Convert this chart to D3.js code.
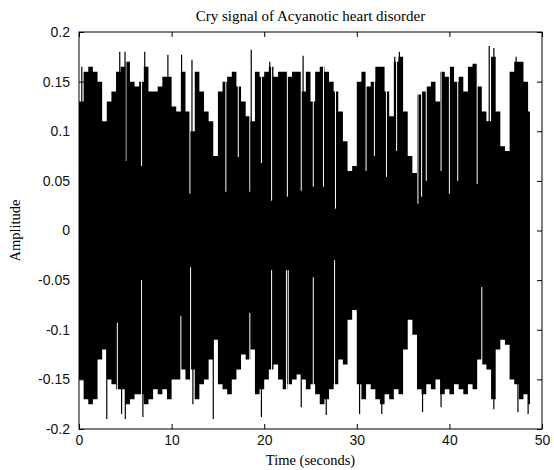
<!DOCTYPE html>
<html>
<head>
<meta charset="utf-8">
<script src="https://cdn.jsdelivr.net/npm/d3@7"></script>
<style>
  body { margin: 0; background: #fff; }
  .tick text { font-family: "Liberation Sans", Arial, sans-serif; font-size: 14px; fill: #111; }
</style>
</head>
<body>
<div id="chart"></div>
<script>
// Envelope of the cry signal, every 0.5 s
const times = [0,0.5,1,1.5,2,2.5,3,3.5,4,4.5,5,5.5,6,6.5,7,7.5,8,8.5,9,9.5,
  10,10.5,11,11.5,12,12.5,13,13.5,14,14.5,15,15.5,16,16.5,17,17.5,18,18.5,19,19.5,
  20,20.5,21,21.5,22,22.5,23,23.5,24,24.5,25,25.5,26,26.5,27,27.5,28,28.5,29,29.5,
  30,30.5,31,31.5,32,32.5,33,33.5,34,34.5,35,35.5,36,36.5,37,37.5,38,38.5,39,39.5,
  40,40.5,41,41.5,42,42.5,43,43.5,44,44.5,45,45.5,46,46.5,47,47.5,48,48.5];
const endTime = 48.7;

const upper = [0.13,0.16,0.165,0.16,0.15,0.11,0.13,0.14,0.16,0.165,0.17,0.15,0.145,0.15,0.165,0.14,0.14,0.145,0.155,0.155,
  0.125,0.12,0.16,0.12,0.1,0.16,0.14,0.12,0.11,0.075,0.14,0.15,0.155,0.16,0.145,0.13,0.115,0.11,0.16,0.155,
  0.16,0.165,0.155,0.16,0.16,0.155,0.16,0.16,0.14,0.16,0.13,0.16,0.165,0.16,0.15,0.14,0.12,0.09,0.06,0.065,
  0.15,0.16,0.145,0.15,0.165,0.165,0.14,0.115,0.17,0.175,0.12,0.075,0.058,0.137,0.14,0.145,0.15,0.13,0.16,0.155,
  0.165,0.15,0.155,0.14,0.165,0.168,0.145,0.12,0.11,0.175,0.12,0.085,0.08,0.16,0.17,0.17,0.15,0.12];

const lower = [-0.15,-0.17,-0.175,-0.17,-0.13,-0.12,-0.15,-0.155,-0.16,-0.16,-0.175,-0.17,-0.165,-0.165,-0.175,-0.17,-0.16,-0.165,-0.16,-0.17,
  -0.15,-0.15,-0.14,-0.15,-0.14,-0.17,-0.155,-0.15,-0.13,-0.11,-0.155,-0.16,-0.165,-0.15,-0.14,-0.125,-0.13,-0.12,-0.165,-0.16,
  -0.15,-0.14,-0.135,-0.15,-0.16,-0.155,-0.15,-0.145,-0.15,-0.16,-0.155,-0.165,-0.175,-0.17,-0.16,-0.155,-0.13,-0.135,-0.09,-0.08,
  -0.155,-0.17,-0.155,-0.16,-0.17,-0.175,-0.165,-0.17,-0.16,-0.165,-0.12,-0.09,-0.105,-0.16,-0.165,-0.155,-0.16,-0.15,-0.165,-0.16,
  -0.165,-0.155,-0.16,-0.165,-0.155,-0.16,-0.13,-0.135,-0.14,-0.17,-0.12,-0.11,-0.115,-0.15,-0.155,-0.17,-0.165,-0.175];

// Single peaks that stick out of the envelope
const peakTimes = [0.3,4.4,4.97,7.1,9.6,11.08,12.2,18.6,20.6,24.2,34.1,34.6,44.3,44.8,47.2];
const peakValues = [0.165,0.18,0.18,0.18,0.177,0.177,0.172,0.182,0.17,0.176,0.175,0.18,0.186,0.184,0.175];
const troughTimes = [3.0,4.6,5.0,6.9,12.3,14.5,19.7,24.0,26.7,30.3,32.7,37.1,39.1,44.8,47.4,48.5];
const troughValues = [-0.19,-0.185,-0.19,-0.188,-0.175,-0.19,-0.188,-0.178,-0.186,-0.185,-0.185,-0.183,-0.178,-0.18,-0.183,-0.185];

// Short drops in amplitude (thin white lines)
const topGapTimes = [5.07,6.76,11.98,15.86,17.2,18.45,19.7,20.8,22.5,24.0,25.3,26.4,27.7,31.0,31.9,33.2,34.3,36.6,37.0,37.5,39.1,40.0,40.9,43.0];
const topGapLevels = [0.07,0.065,0.037,0.039,0.074,0.039,0.068,0.03,0.034,0.04,0.044,0.044,0.022,0.06,0.075,0.054,0.08,0.027,0.034,0.05,0.06,0.037,0.05,0.047];
const bottomGapTimes = [4.14,6.76,11.0,12.05,18.45,20.8,22.6,22.4,25.3,27.6,43.5];
const bottomGapLevels = [-0.093,-0.05,-0.086,-0.037,-0.083,-0.04,-0.04,-0.04,-0.047,-0.03,-0.057];

const xTicks = [0, 10, 20, 30, 40, 50];
const yTicks = [-0.2, -0.15, -0.1, -0.05, 0, 0.05, 0.1, 0.15, 0.2];

const width = 554;
const height = 470;
const margin = { top: 32, right: 12, bottom: 41, left: 79 };
const w = width - margin.left - margin.right;
const h = height - margin.top - margin.bottom;
const serif = '"Liberation Serif", "Times New Roman", serif';

const svg = d3.select('#chart')
  .append('svg')
  .attr('width', width)
  .attr('height', height);

const g = svg.append('g')
  .attr('transform', `translate(${margin.left},${margin.top})`);

const x = d3.scaleLinear().domain([0, 50]).range([0, w]);
const y = d3.scaleLinear().domain([-0.2, 0.2]).range([h, 0]);

// envelope as step area
const pts = times.map((t, i) => ({ t, hi: upper[i], lo: lower[i] }));
pts.push({ t: endTime, hi: upper[upper.length - 1], lo: lower[lower.length - 1] });

const area = d3.area()
  .curve(d3.curveStepAfter)
  .x(d => x(d.t))
  .y0(d => y(d.lo))
  .y1(d => y(d.hi));

g.append('path')
  .datum(pts)
  .attr('d', area)
  .attr('fill', '#000');

// white gaps
g.selectAll('.gap-top')
  .data(topGapTimes)
  .enter()
  .append('line')
  .attr('x1', d => x(d)).attr('x2', d => x(d))
  .attr('y1', y(0.2))
  .attr('y2', (d, i) => y(topGapLevels[i]))
  .attr('stroke', '#fff')
  .attr('stroke-width', 1);

g.selectAll('.gap-bottom')
  .data(bottomGapTimes)
  .enter()
  .append('line')
  .attr('x1', d => x(d)).attr('x2', d => x(d))
  .attr('y1', y(-0.2))
  .attr('y2', (d, i) => y(bottomGapLevels[i]))
  .attr('stroke', '#fff')
  .attr('stroke-width', 1);

// spikes
g.selectAll('.peak')
  .data(peakTimes)
  .enter()
  .append('line')
  .attr('x1', d => x(d)).attr('x2', d => x(d))
  .attr('y1', y(0))
  .attr('y2', (d, i) => y(peakValues[i]))
  .attr('stroke', '#000')
  .attr('stroke-width', 1.2);

g.selectAll('.trough')
  .data(troughTimes)
  .enter()
  .append('line')
  .attr('x1', d => x(d)).attr('x2', d => x(d))
  .attr('y1', y(0))
  .attr('y2', (d, i) => y(troughValues[i]))
  .attr('stroke', '#000')
  .attr('stroke-width', 1.2);

// Axes, MATLAB style: ticks inside on all four sides
g.append('g')
  .attr('transform', `translate(0,${h})`)
  .call(d3.axisBottom(x).tickValues(xTicks).tickSizeInner(-5).tickSizeOuter(0).tickPadding(6).tickFormat(d => String(d)));

g.append('g')
  .call(d3.axisTop(x).tickValues(xTicks).tickSizeInner(-5).tickSizeOuter(0).tickFormat(''));

g.append('g')
  .call(d3.axisLeft(y).tickValues(yTicks).tickSizeInner(-5).tickSizeOuter(0).tickPadding(9).tickFormat(d => String(d)));

g.append('g')
  .attr('transform', `translate(${w},0)`)
  .call(d3.axisRight(y).tickValues(yTicks).tickSizeInner(-5).tickSizeOuter(0).tickFormat(''));

g.selectAll('.domain').remove();
g.selectAll('.tick line').attr('stroke', '#000');

g.append('rect')
  .attr('width', w)
  .attr('height', h)
  .attr('fill', 'none')
  .attr('stroke', '#000')
  .attr('stroke-width', 1);

// Labels
svg.append('text')
  .attr('x', margin.left + w / 2)
  .attr('y', 21)
  .attr('text-anchor', 'middle')
  .attr('font-family', serif)
  .attr('font-size', '15px')
  .text('Cry signal of Acyanotic heart disorder');

svg.append('text')
  .attr('x', margin.left + w / 2)
  .attr('y', 465)
  .attr('text-anchor', 'middle')
  .attr('font-family', serif)
  .attr('font-size', '14.5px')
  .text('Time (seconds)');

svg.append('text')
  .attr('transform', `translate(20,${margin.top + h / 2}) rotate(-90)`)
  .attr('text-anchor', 'middle')
  .attr('font-family', serif)
  .attr('font-size', '14.5px')
  .text('Amplitude');
</script>
</body>
</html>
